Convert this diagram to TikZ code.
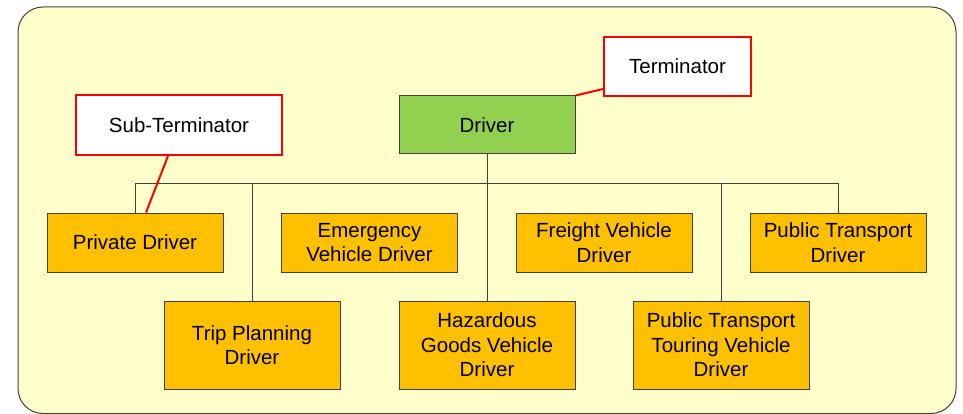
\documentclass[tikz,border=0pt]{standalone}
\usepackage{fontspec}
\setmainfont{Liberation Sans}
\usepackage{xcolor}
\usepackage{tikz}
\usetikzlibrary{positioning,calc}
\definecolor{paper}{RGB}{255,255,204}
\definecolor{amber}{RGB}{255,192,0}
\definecolor{leaf}{RGB}{146,208,80}
\definecolor{inkgray}{RGB}{64,64,64}
\definecolor{alert}{RGB}{255,0,0}
\tikzset{
  every node/.style={font=\fontsize{20.5}{24.5}\selectfont,align=center,inner sep=0pt},
  rolebox/.style={draw=inkgray,line width=1pt,fill=amber,minimum width=176pt},
  rootbox/.style={draw=inkgray,line width=1pt,fill=leaf,minimum width=176pt,minimum height=58pt},
  notebox/.style={draw=alert,line width=2pt,fill=white},
  link/.style={draw=inkgray,line width=0.9pt},
  noteline/.style={draw=alert,line width=2pt}
}

\begin{document}
\begin{tikzpicture}[x=1pt,y=-1pt]
    \useasboundingbox (0,0) rectangle (963,414);
    \clip (0,0) rectangle (963,414);
    \draw[fill=paper,draw=inkgray,line width=1pt,rounded corners=25pt] (18,7) rectangle (956,413.5);
    \coordinate (bus) at (0,183);
    \node[rootbox] (drv) at (487,125) {Driver};
    \node[rolebox,minimum height=59pt] (priv) at (135,242.5) {Private Driver};
    \node[rolebox,minimum height=59pt] (emerg) at (369.5,242.5) {Emergency\\Vehicle Driver};
    \node[rolebox,minimum height=59pt] (freight) at (604,242.5) {Freight Vehicle\\Driver};
    \node[rolebox,minimum height=59pt] (pubtr) at (838,242.5) {Public Transport\\Driver};
    \node[rolebox,minimum height=88pt] (trip) at (252,345) {Trip Planning\\Driver};
    \node[rolebox,minimum height=88pt] (hazard) at (487,345) {Hazardous\\Goods Vehicle\\Driver};
    \node[rolebox,minimum height=88pt] (touring) at (721,345) {Public Transport\\Touring Vehicle\\Driver};
    \node[notebox,minimum width=206pt,minimum height=60pt] (subterm) at (179,125) {Sub-Terminator};
    \node[notebox,minimum width=147pt,minimum height=59pt] (term) at (677.5,66.5) {Terminator};
    \draw[link] (priv.north) -- (priv.north |- bus) -- (pubtr.north |- bus) -- (pubtr.north);
    \draw[link] (drv.south) -- (hazard.north);
    \draw[link] (trip.north) -- (trip.north |- bus);
    \draw[link] (touring.north) -- (touring.north |- bus);
    \draw[noteline] ([xshift=-11pt]subterm.south) -- ([xshift=11pt]priv.north);
    \draw[noteline] ([yshift=8pt]term.south west) -- (drv.north east);
\end{tikzpicture}
\end{document}
